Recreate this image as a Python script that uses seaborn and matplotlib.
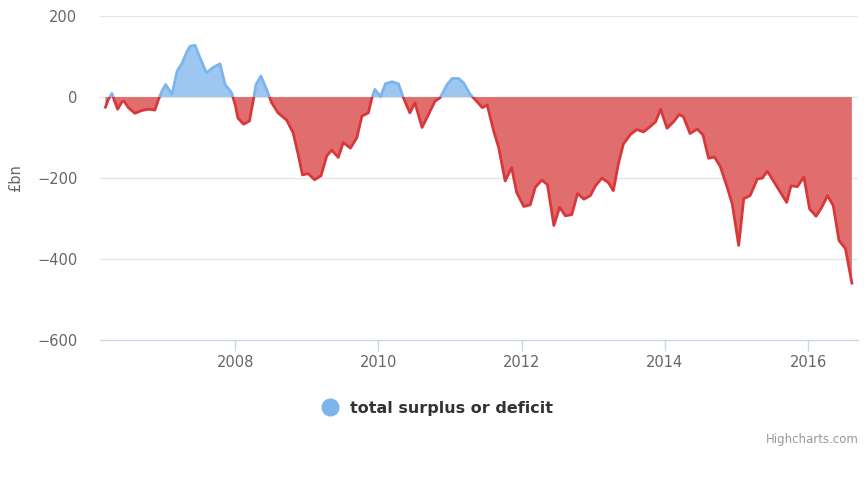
import matplotlib
matplotlib.use("Agg")
import matplotlib.pyplot as plt
from matplotlib.patches import Rectangle
from matplotlib.lines import Line2D
import seaborn as sb
import pandas as pd
import numpy as np

# decimal year, £bn
years = [2006.19, 2006.23, 2006.28, 2006.31, 2006.36, 2006.42, 2006.45, 2006.51, 2006.60, 2006.70,
         2006.79, 2006.88, 2006.93, 2006.98, 2007.03, 2007.09, 2007.12, 2007.19, 2007.26, 2007.33,
         2007.37, 2007.44, 2007.51, 2007.60, 2007.70, 2007.79, 2007.86, 2007.95, 2008.00, 2008.04,
         2008.12, 2008.20, 2008.26, 2008.29, 2008.36, 2008.44, 2008.51, 2008.60, 2008.72, 2008.81,
         2008.88, 2008.94, 2009.02, 2009.11, 2009.20, 2009.28, 2009.35, 2009.44, 2009.51, 2009.61,
         2009.70, 2009.77, 2009.86, 2009.91, 2009.95, 2010.03, 2010.10, 2010.19, 2010.28, 2010.35,
         2010.44, 2010.51, 2010.61, 2010.70, 2010.79, 2010.86, 2010.96, 2011.03, 2011.12, 2011.19,
         2011.28, 2011.35, 2011.45, 2011.52, 2011.61, 2011.68, 2011.77, 2011.86, 2011.93, 2012.03,
         2012.12, 2012.19, 2012.28, 2012.36, 2012.45, 2012.53, 2012.61, 2012.70, 2012.78, 2012.87,
         2012.96, 2013.03, 2013.12, 2013.21, 2013.28, 2013.35, 2013.42, 2013.52, 2013.61, 2013.70,
         2013.78, 2013.87, 2013.94, 2014.03, 2014.12, 2014.20, 2014.26, 2014.35, 2014.45, 2014.53,
         2014.61, 2014.69, 2014.77, 2014.87, 2014.94, 2015.03, 2015.10, 2015.19, 2015.29, 2015.36,
         2015.43, 2015.57, 2015.70, 2015.76, 2015.85, 2015.94, 2016.02, 2016.11, 2016.19, 2016.27,
         2016.35, 2016.43, 2016.52, 2016.61]
values = [-25, -6, 9, -6, -30, -12, -10, -26, -40, -33,
          -30, -32, -6, 15, 31, 15, 7, 64, 84, 113,
          125, 128, 97, 60, 74, 82, 31, 11, -18, -52,
          -67, -59, -2, 30, 52, 19, -14, -39, -57, -88,
          -141, -192, -189, -204, -194, -145, -131, -149, -112, -126,
          -100, -47, -39, -2, 19, 2, 33, 38, 33, -2,
          -39, -14, -75, -43, -10, -2, 31, 46, 46, 35,
          7, -6, -26, -20, -84, -125, -207, -174, -235, -270,
          -266, -223, -205, -216, -317, -272, -293, -290, -238, -252,
          -243, -219, -200, -211, -231, -165, -116, -92, -80, -86,
          -75, -61, -30, -77, -61, -43, -49, -90, -79, -93,
          -151, -148, -170, -223, -264, -366, -251, -243, -202, -200,
          -183, -223, -260, -219, -221, -197, -276, -294, -272, -243,
          -268, -354, -374, -459]

yticks = [200, 0, -200, -400, -600]
xticks = [2008, 2010, 2012, 2014, 2016]
series_name = "total surplus or deficit"

df = pd.DataFrame({"year": years, "value": values})

blue = "#7cb5ec"
red_line = "#d9373a"
red_fill = "#e06666"
grey = "#666666"

fig = plt.figure(figsize=(8.67, 4.86), dpi=100)
ax = fig.add_axes([0.115, 0.30, 0.875, 0.667])

x = df["year"].values
y = df["value"].values
ax.fill_between(x, 0, y, where=y >= 0, interpolate=True, color=blue, alpha=0.75, lw=0)
ax.fill_between(x, 0, y, where=y <= 0, interpolate=True, color=red_fill, alpha=0.95, lw=0)

sb.lineplot(data=df, x="year", y="value", color=blue, lw=2, ax=ax)
sb.lineplot(data=df, x="year", y="value", color=red_line, lw=2, ax=ax)
pos_line, neg_line = ax.lines[-2], ax.lines[-1]
pos_line.set_clip_path(Rectangle((2000, 0), 30, 1000, transform=ax.transData))
neg_line.set_clip_path(Rectangle((2000, -1000), 30, 1000, transform=ax.transData))

ax.set_xlim(2006.11, 2016.70)
ax.set_ylim(-600, 200)
ax.set_yticks(yticks)
ax.set_xticks(xticks)
ax.set_xticklabels([str(t) for t in xticks])

for v in yticks[:-1]:
    ax.axhline(v, color="#e6e6e6", lw=1, zorder=0)

for s in ["top", "right", "left"]:
    ax.spines[s].set_visible(False)
ax.spines["bottom"].set_color("#ccd6eb")
ax.spines["bottom"].set_linewidth(1)

ax.tick_params(axis="y", length=0, pad=16, labelsize=10.5, labelcolor=grey)
ax.tick_params(axis="x", length=8, width=1, color="#ccd6eb", pad=3, labelsize=10.5, labelcolor=grey)
ax.set_xlabel("")
ax.set_ylabel("£bn", color=grey, fontsize=10.5, labelpad=10)

handle = Line2D([], [], marker="o", color="none", markerfacecolor=blue,
                markeredgecolor=blue, markersize=12)
leg = fig.legend([handle], [series_name], loc="center", bbox_to_anchor=(0.5, 0.16),
                 frameon=False, handletextpad=0.3, prop={"weight": "bold", "size": 11.5})
for t in leg.get_texts():
    t.set_color("#333333")

fig.text(0.99, 0.095, "Highcharts.com", ha="right", va="center", color="#999999", fontsize=8.5)

fig.savefig("out.png", dpi=100)
